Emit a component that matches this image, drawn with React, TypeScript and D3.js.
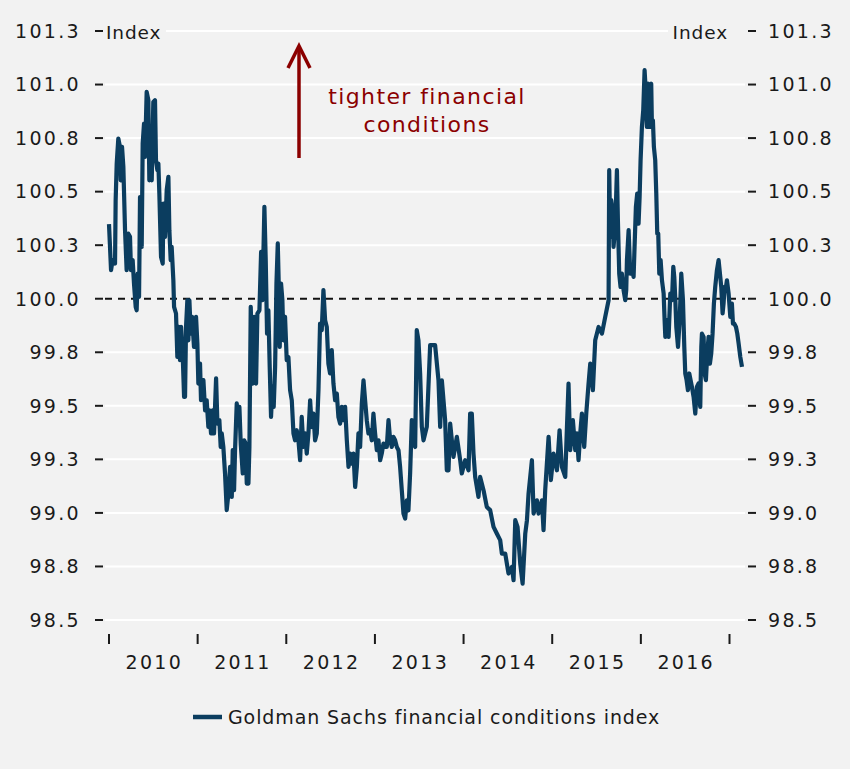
import React from 'react';
import * as d3 from 'd3';

// Goldman Sachs financial conditions index, [decimal year, index value]
const gsfci: [number, number][] = [
  [2010.000, 100.348], [2010.023, 100.133], [2010.041, 100.180], [2010.068, 100.164], [2010.075, 100.460],
  [2010.087, 100.631], [2010.105, 100.748], [2010.124, 100.709], [2010.132, 100.553], [2010.147, 100.709],
  [2010.162, 100.615], [2010.181, 100.320], [2010.199, 100.133], [2010.218, 100.304], [2010.237, 100.289],
  [2010.248, 100.133], [2010.267, 100.180], [2010.282, 100.071], [2010.301, 99.962], [2010.312, 99.946],
  [2010.324, 100.117], [2010.339, 100.009], [2010.350, 100.475], [2010.369, 100.242], [2010.380, 100.724],
  [2010.395, 100.818], [2010.406, 100.662], [2010.425, 100.966], [2010.444, 100.927], [2010.455, 100.553],
  [2010.463, 100.771], [2010.482, 100.553], [2010.500, 100.919], [2010.519, 100.927], [2010.530, 100.647],
  [2010.546, 100.600], [2010.557, 100.631], [2010.568, 100.491], [2010.576, 100.366], [2010.587, 100.195],
  [2010.606, 100.164], [2010.613, 100.444], [2010.632, 100.289], [2010.651, 100.507], [2010.670, 100.569],
  [2010.681, 100.320], [2010.696, 100.180], [2010.707, 100.242], [2010.726, 100.086], [2010.734, 99.962],
  [2010.756, 99.931], [2010.771, 99.728], [2010.786, 99.869], [2010.801, 99.713], [2010.813, 99.869],
  [2010.831, 99.744], [2010.847, 99.542], [2010.858, 99.542], [2010.869, 99.869], [2010.884, 99.993],
  [2010.895, 99.806], [2010.907, 99.993], [2010.922, 99.837], [2010.937, 99.915], [2010.959, 99.775],
  [2010.982, 99.915], [2010.997, 99.791], [2011.008, 99.604], [2011.027, 99.697], [2011.038, 99.526],
  [2011.065, 99.620], [2011.084, 99.479], [2011.102, 99.526], [2011.121, 99.402], [2011.132, 99.479],
  [2011.151, 99.371], [2011.170, 99.479], [2011.185, 99.371], [2011.208, 99.628], [2011.223, 99.417],
  [2011.245, 99.433], [2011.260, 99.308], [2011.272, 99.371], [2011.290, 99.308], [2011.309, 99.184],
  [2011.328, 99.013], [2011.347, 99.090], [2011.366, 99.215], [2011.385, 99.075], [2011.396, 99.293],
  [2011.411, 99.106], [2011.422, 99.293], [2011.441, 99.511], [2011.460, 99.417], [2011.471, 99.495],
  [2011.486, 99.324], [2011.509, 99.184], [2011.524, 99.339], [2011.542, 99.324], [2011.554, 99.137],
  [2011.573, 99.137], [2011.584, 99.308], [2011.599, 99.962], [2011.622, 99.604], [2011.637, 99.915],
  [2011.659, 99.604], [2011.674, 99.931], [2011.697, 99.946],
  [2011.716, 100.219], [2011.731, 99.993], [2011.753, 100.429], [2011.768, 100.180], [2011.783, 99.837],
  [2011.798, 99.946], [2011.813, 99.682], [2011.828, 99.448], [2011.843, 99.588], [2011.858, 99.495],
  [2011.874, 99.682], [2011.889, 100.071], [2011.904, 100.258], [2011.919, 99.993], [2011.926, 99.775],
  [2011.941, 100.071], [2011.956, 99.993], [2011.968, 99.806], [2011.986, 99.915], [2012.005, 99.713],
  [2012.024, 99.728], [2012.043, 99.573], [2012.062, 99.526], [2012.081, 99.371], [2012.099, 99.339],
  [2012.118, 99.386], [2012.137, 99.339], [2012.156, 99.246], [2012.174, 99.448], [2012.193, 99.308],
  [2012.212, 99.371], [2012.231, 99.277], [2012.250, 99.371], [2012.269, 99.526], [2012.287, 99.401],
  [2012.306, 99.464], [2012.325, 99.339], [2012.344, 99.371], [2012.363, 99.573], [2012.381, 99.884],
  [2012.400, 99.853], [2012.419, 100.040], [2012.438, 99.900], [2012.457, 99.868], [2012.475, 99.697],
  [2012.494, 99.651], [2012.513, 99.760], [2012.532, 99.604], [2012.551, 99.526], [2012.570, 99.557],
  [2012.588, 99.448], [2012.607, 99.417], [2012.626, 99.495], [2012.645, 99.433], [2012.664, 99.495],
  [2012.683, 99.339], [2012.702, 99.215], [2012.720, 99.277], [2012.739, 99.230], [2012.758, 99.277],
  [2012.777, 99.121], [2012.796, 99.215], [2012.814, 99.371], [2012.833, 99.308], [2012.852, 99.510],
  [2012.871, 99.619], [2012.889, 99.526], [2012.908, 99.433], [2012.927, 99.371], [2012.946, 99.386],
  [2012.965, 99.339], [2012.983, 99.464], [2013.002, 99.371], [2013.021, 99.293], [2013.040, 99.339],
  [2013.059, 99.246], [2013.077, 99.277], [2013.096, 99.324], [2013.115, 99.308], [2013.134, 99.308],
  [2013.153, 99.433], [2013.172, 99.339], [2013.190, 99.308], [2013.209, 99.355], [2013.228, 99.339],
  [2013.247, 99.308], [2013.266, 99.293], [2013.284, 99.215], [2013.303, 99.106], [2013.322, 98.997],
  [2013.341, 98.974], [2013.360, 99.059], [2013.378, 99.012], [2013.397, 99.184], [2013.416, 99.433],
  [2013.435, 99.324], [2013.454, 99.308], [2013.472, 99.853], [2013.491, 99.806], [2013.510, 99.651],
  [2013.529, 99.402],
  [2013.548, 99.339], [2013.585, 99.402], [2013.623, 99.783], [2013.679, 99.783], [2013.717, 99.619],
  [2013.736, 99.402], [2013.755, 99.619], [2013.792, 99.433], [2013.811, 99.199], [2013.830, 99.199],
  [2013.849, 99.417], [2013.886, 99.262], [2013.924, 99.355], [2013.962, 99.246], [2013.980, 99.184],
  [2014.018, 99.246], [2014.056, 99.199], [2014.074, 99.464], [2014.093, 99.464], [2014.112, 99.277],
  [2014.131, 99.168], [2014.168, 99.075], [2014.187, 99.168], [2014.225, 99.106], [2014.262, 99.028],
  [2014.300, 99.013], [2014.338, 98.935], [2014.375, 98.904], [2014.413, 98.873], [2014.432, 98.810],
  [2014.470, 98.810], [2014.507, 98.717], [2014.545, 98.748], [2014.564, 98.686], [2014.583, 98.966],
  [2014.609, 98.935], [2014.639, 98.764], [2014.666, 98.670], [2014.696, 98.904], [2014.715, 98.966],
  [2014.733, 99.090], [2014.771, 99.246], [2014.790, 98.997], [2014.827, 99.059], [2014.846, 98.997],
  [2014.884, 99.059], [2014.902, 98.919], [2014.921, 99.106], [2014.959, 99.355], [2014.985, 99.153],
  [2015.015, 99.277], [2015.053, 99.199], [2015.083, 99.386], [2015.109, 99.215], [2015.147, 99.168],
  [2015.165, 99.386], [2015.184, 99.604], [2015.203, 99.293], [2015.233, 99.433], [2015.260, 99.293],
  [2015.278, 99.371], [2015.297, 99.246], [2015.316, 99.371], [2015.335, 99.464], [2015.361, 99.308],
  [2015.384, 99.464], [2015.410, 99.604], [2015.429, 99.697], [2015.459, 99.573], [2015.485, 99.806],
  [2015.523, 99.868], [2015.561, 99.837], [2015.598, 99.915], [2015.636, 99.993],
  [2015.643, 100.600], [2015.655, 100.289], [2015.666, 100.460], [2015.681, 100.413], [2015.692, 100.242],
  [2015.704, 100.304], [2015.719, 100.444], [2015.730, 100.600], [2015.741, 100.366], [2015.756, 100.117],
  [2015.771, 100.055], [2015.786, 100.117], [2015.805, 100.040], [2015.824, 99.993], [2015.835, 100.040],
  [2015.843, 100.180], [2015.862, 100.320], [2015.880, 100.117], [2015.899, 100.149], [2015.918, 100.102],
  [2015.929, 100.242], [2015.944, 100.429], [2015.959, 100.491], [2015.974, 100.351], [2015.986, 100.475],
  [2015.997, 100.647], [2016.012, 100.802], [2016.027, 100.880], [2016.042, 101.067], [2016.057, 100.958],
  [2016.068, 100.802], [2016.080, 101.004], [2016.091, 100.802], [2016.106, 100.989], [2016.117, 101.004],
  [2016.125, 100.802], [2016.136, 100.833], [2016.147, 100.709], [2016.162, 100.647], [2016.174, 100.491],
  [2016.185, 100.304], [2016.196, 100.304], [2016.208, 100.117], [2016.223, 100.180], [2016.238, 100.086],
  [2016.257, 100.024], [2016.268, 99.900], [2016.276, 99.822], [2016.295, 99.900], [2016.313, 99.822],
  [2016.332, 100.024], [2016.351, 99.993], [2016.366, 100.149], [2016.377, 100.102], [2016.389, 99.993],
  [2016.400, 99.868], [2016.419, 99.775], [2016.438, 99.900], [2016.456, 100.117], [2016.475, 99.993],
  [2016.490, 99.775], [2016.501, 99.651], [2016.516, 99.620], [2016.531, 99.573], [2016.546, 99.651],
  [2016.561, 99.620], [2016.576, 99.588], [2016.595, 99.542], [2016.614, 99.464], [2016.632, 99.588],
  [2016.651, 99.604], [2016.670, 99.495], [2016.682, 99.775], [2016.689, 99.837], [2016.708, 99.822],
  [2016.719, 99.651], [2016.734, 99.620], [2016.749, 99.744], [2016.764, 99.822], [2016.779, 99.697],
  [2016.794, 99.744], [2016.809, 99.837], [2016.824, 99.977], [2016.839, 100.055], [2016.858, 100.133],
  [2016.877, 100.180], [2016.896, 100.102], [2016.907, 100.055], [2016.922, 99.931], [2016.933, 99.977],
  [2016.945, 100.055], [2016.960, 100.055], [2016.971, 100.086], [2016.990, 100.024], [2017.009, 99.915],
  [2017.027, 99.977], [2017.039, 99.884], [2017.054, 99.884], [2017.073, 99.868], [2017.088, 99.837],
  [2017.103, 99.791], [2017.122, 99.728], [2017.141, 99.682],
];

const yTicks = [98.5, 98.75, 99.0, 99.25, 99.5, 99.75, 100.0, 100.25, 100.5, 100.75, 101.0, 101.25];
const yTickLabels = ['98.5', '98.8', '99.0', '99.3', '99.5', '99.8', '100.0', '100.3', '100.5', '100.8', '101.0', '101.3'];
const xTickYears = [2010, 2011, 2012, 2013, 2014, 2015, 2016, 2017];
const xLabels = ['2010', '2011', '2012', '2013', '2014', '2015', '2016'];
const seriesName = 'Goldman Sachs financial conditions index';
const axisTitle = 'Index';
const annotationLines = ['tighter financial', 'conditions'];
const referenceLevel = 100;

const BG = '#f2f2f2';
const NAVY = '#0b3d5f';
const RED = '#8b0000';
const FONT = '"DejaVu Sans", sans-serif';
const TXT = '#1a1a1a';

export default function App() {
  const W = 850;
  const H = 769;
  const left = 105;
  const right = 745;
  const x = d3.scaleLinear().domain([2010, 2017]).range([109, 729.5]);
  const y = d3.scaleLinear().domain([98.5, 101.25]).range([620, 31]);
  const line = d3
    .line<[number, number]>()
    .x((d) => x(d[0]))
    .y((d) => y(d[1]));

  const arrowX = 299;
  return (
    <svg
      width={W}
      height={H}
      style={{ position: 'absolute', left: 0, top: 0, display: 'block' }}
      fontFamily={FONT}
    >
      <rect x={0} y={0} width={W} height={H} fill={BG} />

      {/* gridlines */}
      {yTicks.map((t) =>
        t === referenceLevel ? null : (
          <line key={'g' + t} x1={left} x2={right} y1={y(t)} y2={y(t)} stroke="#ffffff" strokeWidth={2} />
        )
      )}

      {/* left axis */}
      {yTicks.map((t, i) => (
        <g key={'l' + t}>
          <line x1={95} x2={103} y1={y(t)} y2={y(t)} stroke={TXT} strokeWidth={2} />
          <text x={81} y={y(t)} dy="0.36em" textAnchor="end" fontSize={19} letterSpacing={2.3} fill={TXT}>
            {yTickLabels[i]}
          </text>
        </g>
      ))}
      {/* right axis */}
      {yTicks.map((t, i) => (
        <g key={'r' + t}>
          <line x1={748} x2={756} y1={y(t)} y2={y(t)} stroke={TXT} strokeWidth={2} />
          <text x={768} y={y(t)} dy="0.36em" textAnchor="start" fontSize={19} letterSpacing={2.3} fill={TXT}>
            {yTickLabels[i]}
          </text>
        </g>
      ))}

      {/* Index titles */}
      <rect x={104} y={y(101.25) - 4} width={62} height={8} fill={BG} />
      <text x={106} y={39} fontSize={18.5} letterSpacing={0.9} fill={TXT}>
        {axisTitle}
      </text>
      <rect x={668} y={y(101.25) - 4} width={78} height={8} fill={BG} />
      <text x={728} y={39} fontSize={18.5} letterSpacing={0.9} textAnchor="end" fill={TXT}>
        {axisTitle}
      </text>

      {/* reference line at 100 */}
      <line
        x1={left}
        x2={right}
        y1={y(referenceLevel)}
        y2={y(referenceLevel)}
        stroke="#111"
        strokeWidth={2}
        strokeDasharray="7,6"
      />

      {/* x axis ticks and labels */}
      {xTickYears.map((yr) => (
        <line key={'xt' + yr} x1={x(yr)} x2={x(yr)} y1={634} y2={644} stroke={TXT} strokeWidth={2} />
      ))}
      {xLabels.map((lab, i) => (
        <text
          key={'xl' + lab}
          x={x(xTickYears[i] + 0.5) + 1}
          y={669}
          textAnchor="middle"
          fontSize={19}
          letterSpacing={2.3}
          fill={TXT}
        >
          {lab}
        </text>
      ))}

      {/* series */}
      <path d={line(gsfci) || ''} fill="none" stroke={NAVY} strokeWidth={4.2} strokeLinejoin="round" />

      {/* annotation */}
      <line x1={arrowX} x2={arrowX} y1={158} y2={46} stroke={RED} strokeWidth={3.5} />
      <polyline
        points={`${arrowX - 11},68 ${arrowX},46 ${arrowX + 11},68`}
        fill="none"
        stroke={RED}
        strokeWidth={3.5}
      />
      {annotationLines.map((s, i) => (
        <text key={'a' + i} x={427} y={104 + i * 28} textAnchor="middle" fontSize={22} letterSpacing={1.4} fill={RED}>
          {s}
        </text>
      ))}

      {/* legend */}
      <line x1={193} x2={222} y1={717} y2={717} stroke={NAVY} strokeWidth={4.5} />
      <text x={228} y={724} fontSize={19} letterSpacing={0.9} fill={TXT}>
        {seriesName}
      </text>
    </svg>
  );
}
